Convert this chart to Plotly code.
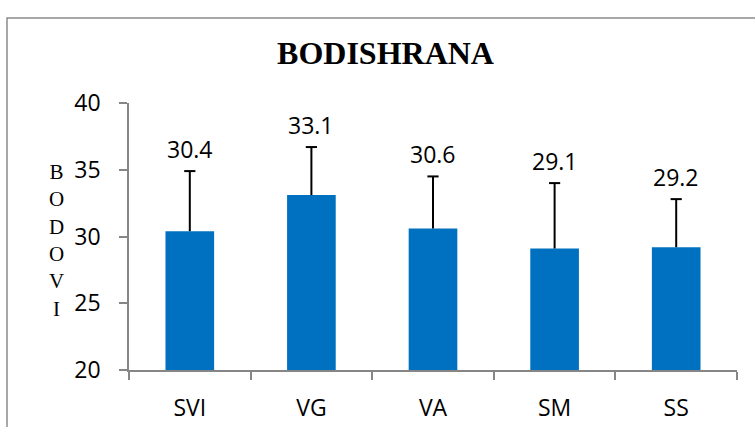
import plotly.graph_objects as go

categories = ["SVI", "VG", "VA", "SM", "SS"]
values = [30.4, 33.1, 30.6, 29.1, 29.2]
errors = [4.5, 3.6, 3.9, 4.9, 3.6]
y_ticks = [20, 25, 30, 35, 40]

title_text = "BODISHRANA"
y_label = "BODOVI"

tick_font = dict(family="Open Sans, Lato, sans-serif", size=23, color="#000000")
axis_gray = "#868686"

W, H = 755, 427
ML, MR, MT, MB = 129, 18, 103, 57
pw, ph = W - ML - MR, H - MT - MB

err_tops = [v + e for v, e in zip(values, errors)]

fig = go.Figure()
fig.add_trace(go.Bar(
    x=categories,
    y=values,
    marker=dict(color="#0070C0", line=dict(width=0)),
    error_y=dict(type="data", array=errors, symmetric=False,
                 arrayminus=[0] * len(errors), color="#000000",
                 thickness=2, width=0),
    width=0.4,
    showlegend=False,
))
# caps at the top of the error bars
fig.add_trace(go.Scatter(
    x=categories, y=err_tops, mode="markers",
    marker=dict(symbol="line-ew-open", size=8, color="#000000",
                line=dict(color="#000000", width=2)),
    showlegend=False, hoverinfo="skip",
))

for c, v, t in zip(categories, values, err_tops):
    fig.add_annotation(x=c, y=t, xref="x", yref="y",
                       text=f"{v:.1f}", showarrow=False,
                       yshift=22, font=tick_font)

fig.add_annotation(x=(56 - ML) / pw, y=(H - MB - 241) / ph,
                   xref="paper", yref="paper",
                   text="<br>".join(list(y_label)), showarrow=False,
                   font=dict(family="Liberation Serif, Times New Roman, serif",
                             size=21, color="#000000"),
                   xanchor="center", yanchor="middle")

fig.update_layout(
    width=W, height=H,
    margin=dict(l=ML, r=MR, t=MT, b=MB, pad=0, autoexpand=False),
    paper_bgcolor="#ffffff",
    plot_bgcolor="#ffffff",
    title=dict(text=f"<b>{title_text}</b>", x=385.5 / W, xanchor="center",
               y=1 - 53 / H, yanchor="middle",
               font=dict(family="Liberation Serif, Times New Roman, serif",
                         size=32, color="#000000")),
    bargap=0.6,
    xaxis=dict(
        automargin=False,
        showline=True, linecolor=axis_gray, linewidth=1.5,
        ticks="outside", tickson="boundaries", ticklen=8, tickcolor=axis_gray,
        tickwidth=1.5, tickfont=tick_font, ticklabelstandoff=17,
        showgrid=False, zeroline=False,
    ),
    yaxis=dict(
        automargin=False,
        range=[20, 40], tickvals=y_ticks,
        showline=True, linecolor=axis_gray, linewidth=1.5,
        ticks="outside", ticklen=8, tickcolor=axis_gray, tickwidth=1.5,
        tickfont=tick_font, ticklabelstandoff=14,
        showgrid=False, zeroline=False,
    ),
    shapes=[dict(type="rect", xref="paper", yref="paper",
                 x0=(7 - ML) / pw, x1=(W + 20 - ML) / pw,
                 y0=(H - MB - (H + 20)) / ph, y1=(H - MB - 18) / ph,
                 line=dict(color="#8c8c8c", width=1.5), fillcolor="rgba(0,0,0,0)",
                 layer="below")],
)

fig.write_html("out.html", config={"displayModeBar": False},
               post_script="document.body.style.margin='0';")
